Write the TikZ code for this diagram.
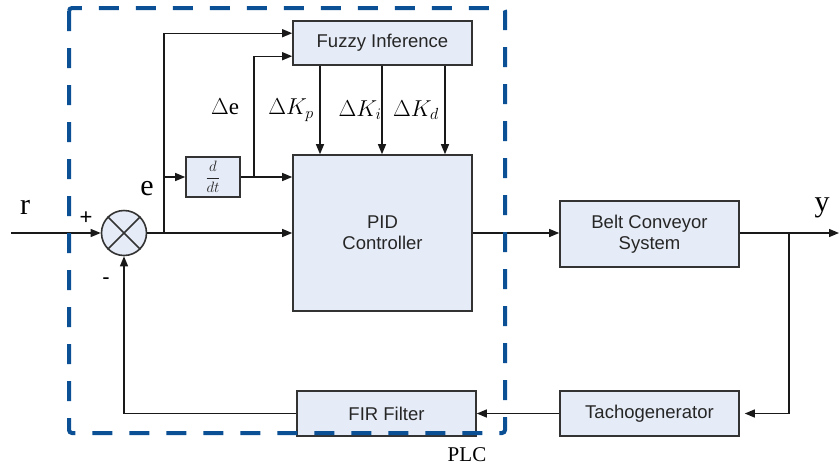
\documentclass[tikz,border=0pt]{standalone}
\usepackage{fix-cm}
\usepackage{fontspec}
\setmainfont{Liberation Serif}
\setsansfont{Liberation Sans}
\usetikzlibrary{calc,arrows.meta}
\definecolor{boxfill}{HTML}{E6ECF7}
\definecolor{plcblue}{HTML}{0B4F94}
\definecolor{edge}{HTML}{333333}
\begin{document}
\begin{tikzpicture}[x=1pt,y=-1pt,
  blk/.style={draw=edge, line width=1.6pt, fill=boxfill, inner sep=0pt, align=center,
    font=\sffamily\fontsize{18.5}{21}\selectfont, text=black!85},
  ln/.style={line width=1.3pt, draw=black!90},
  arr/.style={ln, -{Triangle[length=10pt,width=8pt]}},
  lbl/.style={inner sep=0pt, font=\fontsize{30}{32}\selectfont},
  mlbl/.style={inner sep=0pt, font=\fontsize{23}{26}\selectfont},
  sgn/.style={inner sep=0pt, font=\sffamily\fontsize{22}{24}\selectfont}]
\useasboundingbox (0,0) rectangle (839,467);
% blocks
\node[blk, minimum width=179pt, minimum height=44pt] (fuzzy) at (382.5,43) {Fuzzy Inference};
\node[blk, minimum width=179pt, minimum height=156pt] (pid) at (382.5,233) {PID\\Controller};
\node[blk, minimum width=54pt, minimum height=40pt, font=\fontsize{15}{16}\selectfont] (ddt) at (213,177) {$\displaystyle\frac{d}{dt}$};
\node[blk, circle, minimum size=45pt, fill=boxfill] (sum) at (124,233) {};
\draw[edge, line width=1.6pt] (sum.north west) -- (sum.south east) (sum.north east) -- (sum.south west);
\node[blk, minimum width=179pt, minimum height=66pt] (belt) at (649.5,234) {Belt Conveyor\\System};
\node[blk, minimum width=179pt, minimum height=45pt] (tacho) at (649.5,413.5) {Tachogenerator};
\node[blk, minimum width=179pt, minimum height=45pt] (fir) at (386.5,413.5) {FIR Filter};
% coordinates
\coordinate (in) at (11,233);
\coordinate (eb) at (164,233);
\coordinate (db) at (254,177);
\coordinate (f1) at ($(fuzzy.north west)+(0,13)$);
\coordinate (f2) at ($(fuzzy.north west)+(0,36)$);
\coordinate (out) at (839,233);
\coordinate (yb) at (789,233);
% connectors
\draw[arr] (in) -- (sum.west);
\draw[arr] (sum.east) -- (pid.west |- sum.east);
\draw[arr] (eb) |- (f1);
\draw[arr] (eb) |- (ddt.west);
\draw[arr] (ddt.east) -- (pid.west |- ddt.east);
\draw[arr] (db) |- (f2);
\foreach \xx in {320,382,445}
  \draw[arr] (fuzzy.south -| \xx,0) -- (pid.north -| \xx,0);
\draw[arr] (pid.east) -- (pid.east -| belt.west);
\draw[arr] (belt.east |- out) -- (out);
\draw[arr, shorten >=5pt] (yb) |- (tacho.east);
\draw[arr] (tacho.west) -- (fir.east);
\draw[arr] (fir.west) -| (sum.south);
% labels
\node[lbl] (rl) at (25,207) {r};
\node[sgn] (pl) at (86,218) {+};
\node[sgn] (mi) at (106,281) {-};
\node[lbl] (el) at (147,189) {e};
\node[lbl] (yl) at (822,208) {y};
\node[mlbl] (de) at (225,107) {$\Delta$e};
\node[mlbl] (kp) at (291,110) {$\Delta K_p$};
\node[mlbl] (ki) at (360,110) {$\Delta K_i$};
\node[mlbl] (kd) at (416,110) {$\Delta K_d$};
\node[inner sep=0pt, font=\fontsize{21}{23}\selectfont] (plc) at (467,455) {PLC};
% PLC boundary
\draw[plcblue, line width=4pt, dash pattern=on 20pt off 17pt, rounded corners=3pt]
  (69,8) rectangle (505,433);
\end{tikzpicture}
\end{document}
